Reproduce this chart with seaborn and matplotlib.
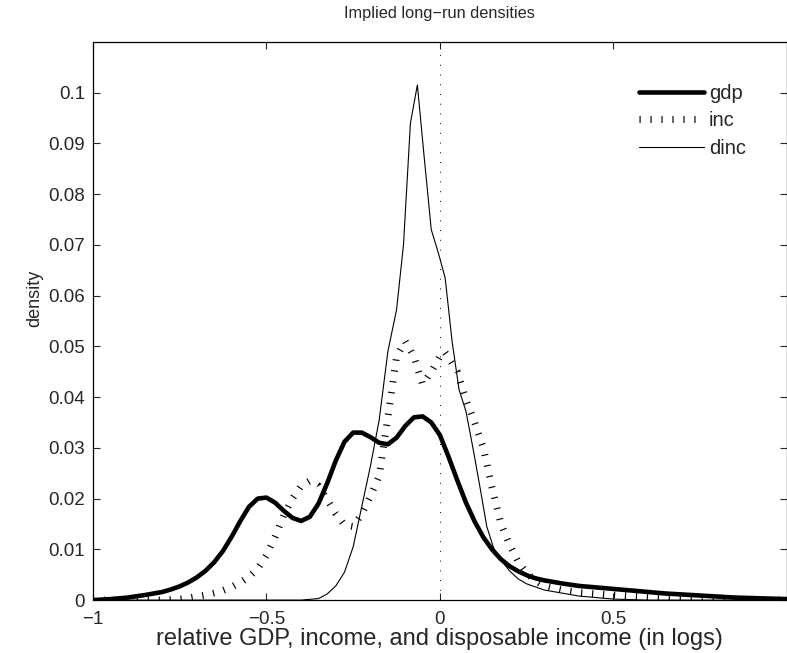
import matplotlib
matplotlib.use("Agg")
import matplotlib.pyplot as plt
import pandas as pd
import seaborn as sns

# long-run densities
gdp_x = [-1.0, -0.95, -0.9, -0.85, -0.8, -0.775, -0.75, -0.725, -0.7, -0.675, -0.65, -0.625,
         -0.6, -0.575, -0.55, -0.525, -0.5, -0.475, -0.45, -0.425, -0.4, -0.375, -0.35, -0.325,
         -0.3, -0.275, -0.25, -0.225, -0.2, -0.175, -0.15, -0.125, -0.1, -0.075, -0.05, -0.025,
         0.0, 0.025, 0.05, 0.075, 0.1, 0.125, 0.15, 0.175, 0.2, 0.225, 0.25, 0.275, 0.3, 0.35,
         0.4, 0.45, 0.5, 0.55, 0.6, 0.65, 0.7, 0.75, 0.8, 0.85, 0.9, 0.95, 1.0]
gdp_y = [0.0, 0.0002, 0.0005, 0.0010, 0.0016, 0.0021, 0.0027, 0.0035, 0.0045, 0.0058, 0.0075, 0.0097,
         0.0125, 0.0156, 0.0184, 0.0200, 0.0202, 0.0192, 0.0176, 0.0162, 0.0156, 0.0164, 0.0190, 0.0230,
         0.0275, 0.0312, 0.0330, 0.0330, 0.0321, 0.0310, 0.0307, 0.0320, 0.0343, 0.0360, 0.0362, 0.0350,
         0.0325, 0.0282, 0.0236, 0.0192, 0.0155, 0.0124, 0.0100, 0.0081, 0.0067, 0.0057, 0.0049, 0.0043,
         0.0039, 0.0033, 0.0028, 0.0025, 0.0022, 0.0019, 0.0016, 0.0013, 0.0011, 0.0009, 0.0007, 0.0005,
         0.0004, 0.0003, 0.0002]

inc_x = [-1.0, -0.8, -0.775, -0.75, -0.725, -0.7, -0.675, -0.65, -0.625, -0.6, -0.575, -0.55,
         -0.525, -0.5, -0.475, -0.45, -0.425, -0.4, -0.375, -0.35, -0.325, -0.3, -0.275, -0.25,
         -0.225, -0.2, -0.175, -0.15, -0.125, -0.1, -0.075, -0.05, -0.025, 0.0, 0.0125, 0.025,
         0.05, 0.075, 0.1, 0.125, 0.15, 0.175, 0.2, 0.225, 0.25, 0.275, 0.3, 0.35, 0.4, 0.45,
         0.5, 0.55, 0.6, 0.7, 0.8, 0.9, 1.0]
inc_y = [0.0, 0.0, 0.0001, 0.0002, 0.0004, 0.0007, 0.0010, 0.0014, 0.0019, 0.0026, 0.0035, 0.0046,
         0.0062, 0.0088, 0.0125, 0.0167, 0.0200, 0.0225, 0.0235, 0.0225, 0.0198, 0.0170, 0.0148, 0.0145,
         0.0170, 0.0205, 0.0245, 0.0360, 0.0480, 0.0510, 0.0480, 0.0425, 0.0450, 0.0480, 0.0490, 0.0478,
         0.0450, 0.0395, 0.0350, 0.0300, 0.0222, 0.0152, 0.0110, 0.0076, 0.0053, 0.0038, 0.0028,
         0.0020, 0.0015, 0.0012, 0.0010, 0.0008, 0.0006, 0.0004, 0.0002, 0.0001, 0.0]

dinc_x = [-1.0, -0.4, -0.35, -0.325, -0.3, -0.275, -0.25, -0.225, -0.2, -0.175, -0.15, -0.125,
          -0.105, -0.085, -0.065, -0.045, -0.025, -0.005, 0.015, 0.035, 0.055, 0.075, 0.095,
          0.115, 0.135, 0.155, 0.175, 0.2, 0.225, 0.25, 0.3, 0.35, 0.4, 0.5, 0.6, 1.0]
dinc_y = [0.0, 0.0, 0.0003, 0.0012, 0.0028, 0.0055, 0.0105, 0.0185, 0.0265, 0.0355, 0.0490, 0.0572,
          0.0700, 0.0940, 0.1015, 0.0870, 0.0730, 0.0685, 0.0635, 0.0510, 0.0415, 0.0372, 0.0300,
          0.0224, 0.0145, 0.0102, 0.0080, 0.0058, 0.0042, 0.0032, 0.0020, 0.0014, 0.0008, 0.0002,
          0.0, 0.0]

xticks = [-1, -0.5, 0, 0.5]
xtick_labels = ["\u22121", "\u22120.5", "0", "0.5"]
yticks = [0, 0.01, 0.02, 0.03, 0.04, 0.05, 0.06, 0.07, 0.08, 0.09, 0.1]
ytick_labels = ["0", "0.01", "0.02", "0.03", "0.04", "0.05", "0.06", "0.07", "0.08", "0.09", "0.1"]

gdp = pd.DataFrame({"x": gdp_x, "density": gdp_y})
inc = pd.DataFrame({"x": inc_x, "density": inc_y})
dinc = pd.DataFrame({"x": dinc_x, "density": dinc_y})

sns.set_style("ticks")
plt.rcParams["font.family"] = ["Liberation Sans", "DejaVu Sans"]

fig = plt.figure(figsize=(7.87, 6.53), dpi=100)
ax = fig.add_axes([0.118, 0.081, 0.882, 0.855])

sns.lineplot(data=gdp, x="x", y="density", ax=ax, color="black", linewidth=3.3, label="gdp")
sns.lineplot(data=inc, x="x", y="density", ax=ax, color="black", linewidth=5.0,
             linestyle=(0, (0.17, 1.41)), dash_capstyle="butt", label="inc")
sns.lineplot(data=dinc, x="x", y="density", ax=ax, color="black", linewidth=0.8, label="dinc")
ax.axvline(0, color="black", linewidth=0.7, linestyle=(0, (1, 9)), zorder=1)

ax.set_xlim(-1, 1)
ax.set_ylim(0, 0.11)
ax.set_xticks(xticks)
ax.set_xticklabels(xtick_labels)
ax.set_yticks(yticks)
ax.set_yticklabels(ytick_labels)
ax.tick_params(direction="in", length=5, width=0.8, labelsize=13.5, top=True, right=True)
ax.tick_params(axis="x", pad=8)
ax.tick_params(axis="y", pad=5.5)
for s in ax.spines.values():
    s.set_linewidth(0.9)
    s.set_color("black")

ax.set_xlabel("relative GDP, income, and disposable income (in logs)", fontsize=17, labelpad=0)
ax.set_ylabel("density", fontsize=13)
ax.yaxis.set_label_coords(-0.072, 0.54)
ax.set_title("Implied long\u2212run densities", fontsize=11.8, pad=17)

ax.legend(loc="upper left", bbox_to_anchor=(0.772, 0.9425), frameon=False, fontsize=14.5,
          handlelength=3.25, handletextpad=0.23, labelspacing=0.42, borderpad=0)

fig.savefig("out.png", dpi=100)
